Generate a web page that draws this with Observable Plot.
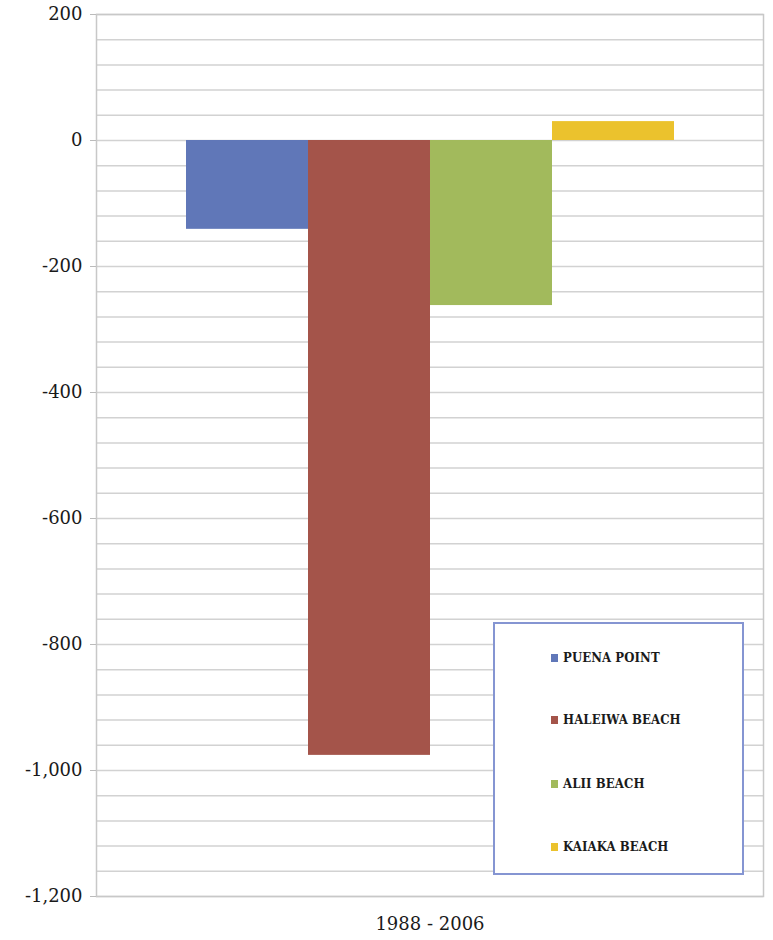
<!DOCTYPE html>
<html>
<head>
<meta charset="utf-8">
<script src="https://cdn.jsdelivr.net/npm/d3@7"></script>
<script src="https://cdn.jsdelivr.net/npm/@observablehq/plot@0.6"></script>
<style>
  html, body { margin: 0; padding: 0; background: #fff; }
  #wrap { position: relative; width: 773px; height: 940px; }
  #wrap svg g[aria-label="y-axis tick label"] text { font-size: 18px; font-family: "DejaVu Serif", serif; fill: #1a1a1a; }
  #wrap svg g[aria-label="fx-axis tick label"] text { font-size: 18px; font-family: "DejaVu Serif", serif; fill: #1a1a1a; }
  #legend {
    position: absolute; left: 493px; top: 622px; width: 251px; height: 253px;
    border: 2px solid #8595d2; box-sizing: border-box; background: #fff;
  }
  .item {
    position: absolute; left: 56px; display: flex; align-items: center;
    font-family: "DejaVu Serif", serif; font-weight: bold; font-stretch: condensed;
    font-size: 13px; color: #1a1a1a; letter-spacing: 0.1px; white-space: nowrap;
  }
  .sw { width: 7px; height: 8px; margin-right: 5px; }
</style>
</head>
<body>
<div id="wrap"></div>
<script>
const period = ["1988 - 2006"];
const series = ["PUENA POINT", "HALEIWA BEACH", "ALII BEACH", "KAIAKA BEACH"];
const values = [-141, -976, -262, 30];
const colors = ["#6077b8", "#a4544a", "#a2ba5c", "#ebc22d"];
const majorTicks = [200, 0, -200, -400, -600, -800, -1000, -1200];
const gridTicks = d3.range(-1200, 201, 40);

const data = series.map((s, i) => ({period: period[0], series: s, value: values[i]}));

const chart = Plot.plot({
  width: 773,
  height: 940,
  marginTop: 14,
  marginBottom: 44,
  marginLeft: 96,
  marginRight: 10,
  style: {background: "#fff", fontSize: "18px", fontFamily: "DejaVu Serif"},
  fx: {domain: period, padding: 0, label: null, axis: null},
  x: {domain: series, paddingInner: 0, paddingOuter: 0.73, axis: null},
  y: {domain: [-1200, 200], label: null},
  color: {domain: series, range: colors},
  marks: [
    Plot.ruleY(gridTicks, {stroke: "#d2d2d2", strokeWidth: 1.5}),
    Plot.frame({stroke: "#c8c8c8", strokeWidth: 1.5}),
    Plot.barY(data, {fx: "period", x: "series", y: "value", fill: "series"}),
    Plot.axisY({
      ticks: majorTicks, tickSize: 6, tickPadding: 8,
      tickFormat: d => d.toLocaleString("en-US"),
      stroke: "#bbb", fontSize: 18, fill: "#1a1a1a"
    }),
    Plot.axisFx({
      anchor: "bottom",
      tickSize: 0, tickPadding: 21, fontSize: 18,
      fill: "#1a1a1a", label: null
    })
  ]
});

const wrap = document.getElementById("wrap");
wrap.appendChild(chart);

const legend = document.createElement("div");
legend.id = "legend";
const tops = [35, 97, 161, 224];
series.forEach((s, i) => {
  const it = document.createElement("div");
  it.className = "item";
  it.style.top = (tops[i] - 9) + "px";
  it.innerHTML = `<span class="sw" style="background:${colors[i]}"></span><span>${s}</span>`;
  legend.appendChild(it);
});
wrap.appendChild(legend);
</script>
</body>
</html>
